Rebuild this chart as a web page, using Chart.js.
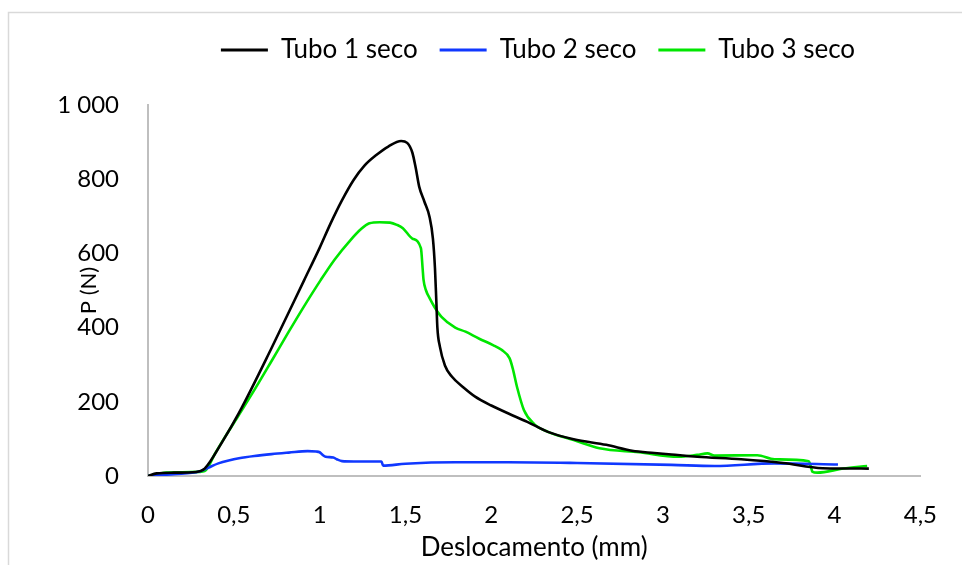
<!DOCTYPE html>
<html>
<head>
<meta charset="utf-8">
<script src="https://cdn.jsdelivr.net/npm/chart.js@4/dist/chart.umd.min.js"></script>
<style>
    html, body { margin: 0; padding: 0; background: #ffffff; }
    #wrap { width: 962px; height: 565px; position: relative; }
</style>
</head>
<body>
<div id="wrap"><canvas id="chart" width="962" height="565"></canvas></div>
<script>
// Series data (displacement in mm, load in N)
const seriesNames = ['Tubo 1 seco', 'Tubo 2 seco', 'Tubo 3 seco'];
const seriesColors = ['#000000', '#1038ff', '#00e600'];

const tubo1X = [0, 0.05, 0.15, 0.28, 0.33, 0.43, 0.53, 0.72, 0.91, 1.0, 1.064, 1.13, 1.198, 1.26, 1.33, 1.4, 1.475, 1.51, 1.54, 1.56, 1.58, 1.61, 1.64, 1.66, 1.672, 1.68, 1.686, 1.70, 1.73, 1.77, 1.84, 1.906, 2.0, 2.097, 2.21, 2.33, 2.48, 2.67, 2.82, 2.95, 3.05, 3.2, 3.456, 3.7, 3.93, 4.2];
const tubo1Y = [0, 7, 9, 11, 20, 90, 170, 345, 528, 615, 681, 743, 798, 836, 865, 888, 903, 898, 872, 830, 780, 740, 699, 640, 560, 470, 400, 350, 298, 268, 238, 214, 190, 169, 146, 119, 99, 84, 68, 62, 58, 52, 45, 35, 21, 20];

const tubo2X = [0, 0.15, 0.30, 0.35, 0.41, 0.47, 0.53, 0.62, 0.72, 0.82, 0.93, 0.98, 1.0, 1.02, 1.035, 1.08, 1.1, 1.13, 1.2, 1.36, 1.37, 1.5, 1.79, 2.1, 2.5, 3.05, 3.30, 3.65, 4.02];
const tubo2Y = [0, 5, 12, 22, 34, 42, 48, 54, 59, 63, 67, 66, 64, 56, 52, 50, 45, 40, 39, 39, 28, 33, 37, 37, 35, 30, 27, 34, 31];

const tubo3X = [0, 0.107, 0.2, 0.30, 0.33, 0.39, 0.45, 0.53, 0.62, 0.72, 0.815, 0.91, 1.006, 1.09, 1.18, 1.24, 1.29, 1.35, 1.41, 1.45, 1.485, 1.54, 1.59, 1.60, 1.605, 1.62, 1.64, 1.67, 1.71, 1.79, 1.85, 1.93, 2.01, 2.06, 2.107, 2.125, 2.15, 2.19, 2.25, 2.33, 2.48, 2.63, 2.86, 3.09, 3.2, 3.26, 3.30, 3.55, 3.65, 3.85, 3.865, 3.87, 3.90, 4.05, 4.19];
const tubo3Y = [0, 9, 10, 11, 13, 60, 106, 165, 232, 310, 385, 458, 528, 585, 636, 665, 681, 684, 683, 677, 668, 640, 614, 560, 530, 500, 480, 455, 429, 400, 389, 370, 353, 340, 317, 290, 240, 178, 140, 119, 97, 75, 64, 52, 57, 61, 55, 56, 45, 40, 20, 12, 9, 20, 27];

// Axis settings
const xMin = 0, xMax = 4.5, xStep = 0.5;
const yMin = 0, yMax = 1000, yStep = 200;
const xTitle = 'Deslocamento (mm)';
const yTitle = 'P (N)';

function toPoints(xs, ys) {
    return xs.map((x, i) => ({ x: x, y: ys[i] }));
}

const allX = [tubo1X, tubo2X, tubo3X];
const allY = [tubo1Y, tubo2Y, tubo3Y];

const datasets = seriesNames.map((name, i) => ({
    label: name,
    data: toPoints(allX[i], allY[i]),
    borderColor: seriesColors[i],
    backgroundColor: seriesColors[i],
    borderWidth: 2.6,
    pointRadius: 0,
    fill: false,
    cubicInterpolationMode: 'monotone'
}));

// Excel-like outer border and white background
const chartFrame = {
    id: 'chartFrame',
    beforeDraw(chart) {
        const ctx = chart.ctx;
        ctx.save();
        ctx.fillStyle = '#ffffff';
        ctx.fillRect(0, 0, chart.width, chart.height);
        ctx.strokeStyle = '#d9d9d9';
        ctx.lineWidth = 1.5;
        ctx.strokeRect(8.5, 12.5, chart.width + 20, chart.height + 20);
        ctx.restore();
    }
};

// Leave extra room under the legend and move it to the right, like the original
const legendPlace = {
    id: 'legendPlace',
    beforeLayout(chart) {
        const lg = chart.legend;
        if (lg && !lg._patched) {
            const fit = lg.fit.bind(lg);
            lg.fit = function() {
                fit();
                this.height += 32;
            };
            lg._patched = true;
        }
    },
    afterLayout(chart) {
        const lg = chart.legend;
        if (lg) {
            lg.left += 72;
            lg.right += 72;
        }
    }
};

const fontFamily = 'Lato, "Open Sans", sans-serif';

new Chart(document.getElementById('chart'), {
    type: 'line',
    data: { datasets: datasets },
    plugins: [chartFrame, legendPlace],
    options: {
        responsive: false,
        animation: false,
        layout: { padding: { top: 15, right: 30, bottom: 0, left: 0 } },
        plugins: {
            legend: {
                position: 'top',
                labels: {
                    color: '#000000',
                    boxWidth: 47,
                    boxHeight: 3,
                    padding: 22,
                    font: { family: fontFamily, size: 26 },
                    generateLabels(chart) {
                        return chart.data.datasets.map((ds, i) => ({
                            text: ds.label,
                            fillStyle: ds.borderColor,
                            strokeStyle: ds.borderColor,
                            lineWidth: 0,
                            datasetIndex: i
                        }));
                    }
                }
            },
            tooltip: { enabled: false }
        },
        scales: {
            x: {
                type: 'linear',
                min: xMin,
                max: xMax,
                afterFit(scale) { scale.height = 89; },
                grid: { display: false, drawTicks: false },
                border: { color: '#bfbfbf', width: 2 },
                ticks: {
                    stepSize: xStep,
                    padding: 25,
                    color: '#000000',
                    font: { family: fontFamily, size: 24 },
                    callback: (v) => String(v).replace('.', ',')
                },
                title: {
                    display: true,
                    text: xTitle,
                    color: '#000000',
                    font: { family: fontFamily, size: 26 },
                    padding: { top: 0, bottom: 2 }
                }
            },
            y: {
                min: yMin,
                max: yMax,
                afterFit(scale) { scale.width = 148; },
                grid: { display: false, drawTicks: false },
                border: { color: '#bfbfbf', width: 2 },
                ticks: {
                    stepSize: yStep,
                    padding: 29,
                    color: '#000000',
                    font: { family: fontFamily, size: 24 },
                    callback: (v) => String(v).replace(/\B(?=(\d{3})+(?!\d))/g, ' ')
                },
                title: {
                    display: true,
                    text: yTitle,
                    color: '#000000',
                    font: { family: fontFamily, size: 22 },
                    padding: { top: 76, bottom: 0 }
                }
            }
        }
    }
});
</script>
</body>
</html>
